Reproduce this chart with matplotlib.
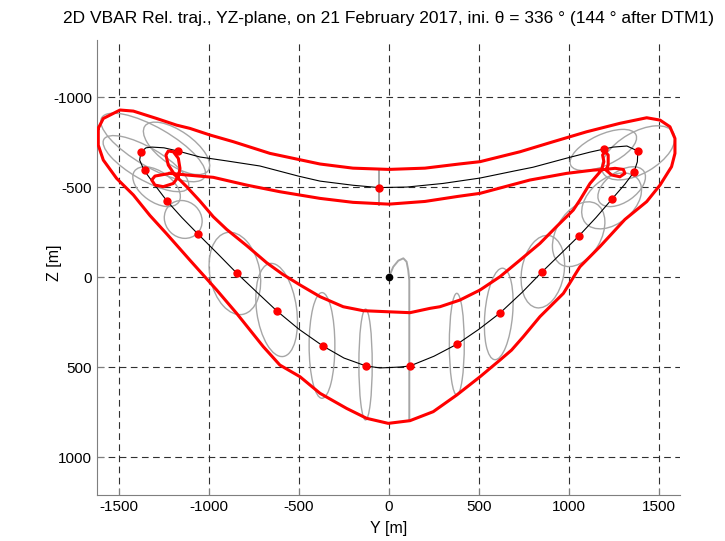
import numpy as np
import matplotlib.pyplot as plt
from matplotlib.patches import Ellipse

plt.rcParams['font.family'] = ['Liberation Sans', 'DejaVu Sans']
plt.rcParams['axes.unicode_minus'] = False

# reference relative trajectory (black)
traj_y = [-56, -200, -383, -500, -717, -900, -1050, -1172, -1250, -1317, -1350, -1378,
          -1385, -1361, -1300, -1233, -1150, -1061, -950, -844, -730, -622, -500, -367,
          -250, -128, -50, 0, 60, 117, 250, 380, 500, 617, 740, 850, 955, 1055, 1150,
          1239, 1310, 1361, 1380, 1383, 1322, 1246, 1194, 1117, 989, 800, 700, 506, 300,
          100, -56]
traj_z = [-497, -510, -533, -560, -617, -645, -667, -700, -718, -722, -718, -694,
          -650, -594, -510, -422, -330, -239, -128, -20, 88, 189, 290, 383,
          450, 494, 505, 503, 500, 494, 440, 372, 290, 200, 85, -28, -130, -228, -330,
          -433, -515, -583, -640, -700, -728, -722, -711, -694, -661, -610, -590, -550, -520,
          -500, -497]

# sample points (red dots)
dot_y = [-1380, -1172, -1358, -1233, -1060, -844, -622, -367, -125,
         117, 380, 617, 850, 1055, 1239, 1360, 1383, 1194, -56]
dot_z = [-694, -700, -592, -422, -239, -20, 189, 383, 494,
         494, 372, 200, -28, -228, -433, -585, -700, -711, -497]

# dispersion ellipses: centre y, centre z, major, minor, angle (deg)
ell_y = [-372, -130, 377, 610, -624, -856, 855, 1054, -1143,
         1237, 1293, 1191, 1385, -1180, -1310, -1350, -1291]
ell_z = [380, 486, 373, 205, 183, -20, -30, -238, -320,
         -423, -502, -706, -690, -715, -720, -630, -502]
ell_a = [587, 616, 565, 510, 522, 463, 407, 390, 220,
         380, 300, 400, 450, 430, 660, 540, 300]
ell_b = [143, 74, 83, 154, 222, 278, 235, 250, 200,
         250, 170, 170, 230, 190, 220, 180, 170]
ell_ang = [90, 90, 90, 95, 82, 79, 100, 120, 45,
           -40, -35, -25, -30, 35, 30, 30, 35]

# degenerate ellipses (gray lines)
deg1_y = [0, 24, 52, 80, 98, 107, 113, 113]
deg1_z = [0, -57, -91, -104, -85, -39, 17, 800]
deg2_y = [-57, -57]
deg2_z = [-594, -400]

# outer envelope (red)
out_y = [-1615, -1587, -1494, -1420, -1291, -1180, -1106, -994, -865, -661, -383, -200,
         0, 200, 390, 506, 728, 913, 1098, 1283, 1432, 1506, 1561, 1589, 1589, 1570,
         1506, 1432, 1311, 1172, 1061, 969, 839, 746, 681, 617, 506, 376, 246, 117, -4,
         -124, -235, -383, -494, -606, -698, -846, -957, -1106, -1235, -1328, -1420,
         -1513, -1587, -1615, -1615]
out_z = [-826, -881, -928, -922, -881, -844, -826, -789, -752, -687, -628, -605,
         -598, -605, -628, -641, -696, -752, -807, -854, -885, -872, -835, -770, -687, -613,
         -511, -419, -320, -169, -57, 91, 220, 332, 406, 461, 554, 656, 748, 798, 813,
         785, 730, 646, 554, 489, 387, 202, 72, -94, -240, -342, -456,
         -548, -650, -733, -826]

# inner envelope (red, with corner loops)
in_y = [-1217, -1124, -976, -791, -606, -383, -200, 0, 200, 383, 506, 783, 987, 1135,
        1200, 1256, 1302, 1311, 1283, 1237, 1206, 1218, 1218, 1200, 1187, 1194, 1181,
        1117, 1061, 1024, 931, 839, 728, 617, 506, 394, 283, 228, 117, -4, -143, -254,
        -383, -494, -590, -680, -791, -902, -976, -1050, -1124, -1189, -1226, -1239,
        -1226, -1198, -1170, -1161, -1170, -1198, -1254, -1300, -1318, -1300, -1217]
in_z = [-576, -567, -554, -511, -474, -437, -415, -405, -420, -448, -465, -539, -576, -594,
        -598, -604, -598, -576, -557, -567, -594, -622, -678, -696, -678, -641, -594,
        -520, -428, -372, -280, -187, -94, -2, 72, 128, 165, 174, 198, 193, 187, 165,
        109, 44, -15, -80, -175, -265, -335, -422, -502, -567, -622, -678,
        -700, -696, -659, -604, -557, -520, -502, -511, -539, -561, -576]

fig = plt.figure(figsize=(7.25, 5.41), dpi=100)
ax = fig.add_axes([97 / 725, 46 / 541, 583 / 725, 455 / 541])

for cy, cz, a, b, ang in zip(ell_y, ell_z, ell_a, ell_b, ell_ang):
    ax.add_patch(Ellipse((cy, cz), a, b, angle=ang, fill=False,
                         edgecolor='#a6a6a6', lw=1.0, zorder=2))
ax.plot(deg1_y, deg1_z, color='#a6a6a6', lw=1.4, zorder=2)
ax.plot(deg2_y, deg2_z, color='#a6a6a6', lw=1.4, zorder=2)

ax.plot(traj_y, traj_z, color='black', lw=0.8, zorder=3)
ax.plot(out_y, out_z, color='red', lw=2.2, zorder=4)
ax.plot(in_y, in_z, color='red', lw=2.2, zorder=4)
ax.plot(dot_y, dot_z, 'o', color='red', ms=5, zorder=5)
ax.plot([0], [0], 'o', color='black', ms=4.5, zorder=5)

ax.set_xlim(-1622, 1617)
ax.set_ylim(1211, -1317)
ax.set_xticks([-1500, -1000, -500, 0, 500, 1000, 1500])
ax.set_yticks([-1000, -500, 0, 500, 1000])
ax.grid(True, linestyle=(0, (6, 4)), color='#303030', lw=0.8)
ax.set_axisbelow(True)
for s in ['top', 'right']:
    ax.spines[s].set_visible(False)
for s in ['left', 'bottom']:
    ax.spines[s].set_color('#7f7f7f')
ax.tick_params(direction='in', length=5, color='#7f7f7f', labelsize=11)

ax.set_xlabel('Y [m]', fontsize=11.5, labelpad=5)
ax.set_ylabel('Z [m]', fontsize=11.5)
ax.yaxis.set_label_coords(-0.06, 0.51)
ax.set_title('2D VBAR Rel. traj., YZ-plane, on 21 February 2017, ini. \u03b8 = 336 \u00b0 (144 \u00b0 after DTM1)',
             fontsize=12.5, pad=12)

fig.savefig('out.png', dpi=100)
